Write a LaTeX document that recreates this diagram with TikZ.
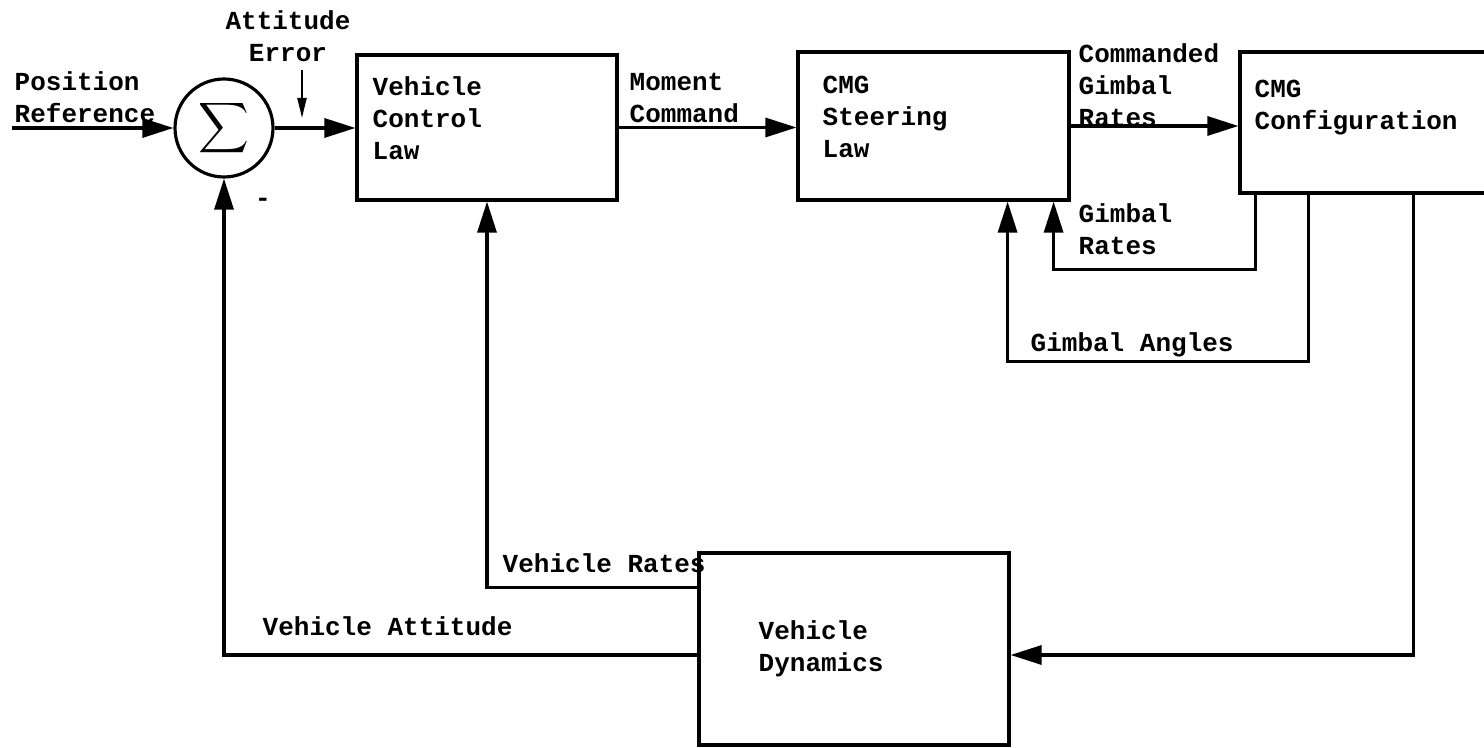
\documentclass[tikz,border=0pt]{standalone}
\usepackage{fontspec}
\newfontfamily\typew{Liberation Mono}
\usetikzlibrary{arrows.meta, calc}

\begin{document}
\begin{tikzpicture}[
        blk/.style={draw, line width=0.9pt, inner sep=0pt},
        txt/.style={font=\typew\bfseries\fontsize{7.4}{9.2}\selectfont, inner sep=0pt, anchor=base west, align=left},
        arr/.style={-{Triangle[length=0.31cm, width=0.19cm]}, line width=0.9pt},
        small arr/.style={-{Triangle[length=0.2cm, width=0.09cm]}, line width=0.6pt}
    ]
    \useasboundingbox (0,0) rectangle (14.84,7.48);

    % Summing junction
    \node[blk, circle, minimum size=0.98cm] (sum) at (2.24,6.20) {\fontsize{13.4}{15}\selectfont$\displaystyle\sum$};
    \node[txt, anchor=center] (minus) at (2.63,5.46) {-};

    % Blocks
    \node[blk, minimum width=2.60cm, minimum height=1.45cm] (vcl) at (4.87,6.205) {};
    \node[blk, minimum width=2.71cm, minimum height=1.48cm] (csl) at (9.335,6.22) {};
    \node[blk, minimum width=2.60cm, minimum height=1.41cm] (cfg) at (13.70,6.255) {};
    \node[blk, minimum width=3.10cm, minimum height=1.92cm] (dyn) at (8.54,0.99) {};

    % Block texts (base = last line)
    \node[txt] (vcltxt) at (3.72,5.88) {Vehicle\\Control\\Law};
    \node[txt] (csltxt) at (8.22,5.90) {CMG\\Steering\\Law};
    \node[txt] (cfgtxt) at (12.54,6.18) {CMG\\Configuration};
    \node[txt] (dyntxt) at (7.58,0.76) {Vehicle\\Dynamics};

    % Signal labels
    \node[txt] (posref) at (0.14,6.25) {Position\\Reference};
    \node[txt, align=center, anchor=base] (atterr) at (2.88,6.86) {Attitude\\Error};
    \node[txt] (momcmd) at (6.29,6.25) {Moment\\Command};
    \node[txt] (cmdrate) at (10.78,6.21) {Commanded\\Gimbal\\Rates};
    \node[txt] (gimrate) at (10.78,4.93) {Gimbal\\Rates};
    \node[txt] (gimang) at (10.30,3.96) {Gimbal Angles};
    \node[txt] (vehrate) at (5.02,1.75) {Vehicle Rates};
    \node[txt] (vehatt) at (2.62,1.12) {Vehicle Attitude};

    % Forward path
    \coordinate (in) at (0.12,6.20);
    \draw[arr] (in) -- (sum);
    \draw[arr] (sum) -- (sum -| vcl.west);
    \draw[arr] (vcl.east) -- (vcl.east -| csl.west);
    \draw[arr] (csl.east) -- (csl.east -| cfg.west);

    % Attitude error pointer
    \coordinate (errtop) at (3.02,6.78);
    \coordinate (errtip) at (3.02,6.30);
    \draw[small arr] (errtop) -- (errtip);

    % Gimbal feedback
    \draw[arr] ([xshift=0.17cm]cfg.south west) -- ++(0,-0.75) -| ([xshift=-0.17cm]csl.south east);
    \draw[arr] ([xshift=0.70cm]cfg.south west) -- ++(0,-1.67) -| ([xshift=-0.63cm]csl.south east);

    % Configuration to dynamics
    \draw[arr] ([xshift=1.75cm]cfg.south west) |- ([yshift=-0.06cm]dyn.east);

    % Vehicle feedback
    \draw[arr] ([yshift=-0.36cm]dyn.north west) -| (vcl.south);
    \draw[arr] ([yshift=-0.06cm]dyn.west) -| (sum.south);
\end{tikzpicture}
\end{document}
